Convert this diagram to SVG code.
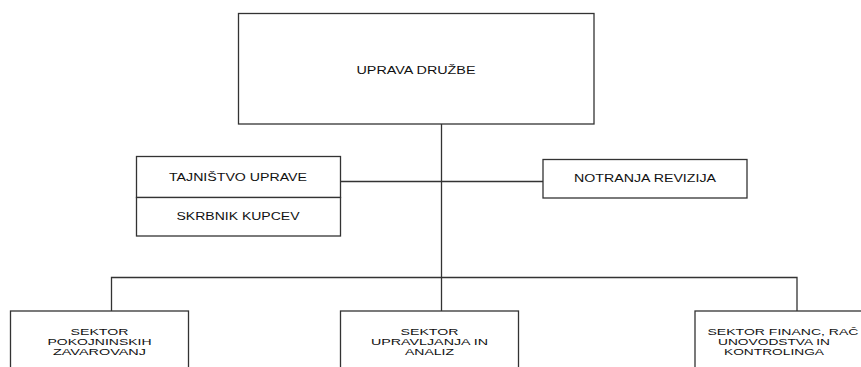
<svg xmlns="http://www.w3.org/2000/svg" width="861" height="367" viewBox="0 0 861 367">
<style>
.box{fill:#fff;stroke:#333;stroke-width:1.3}
.ln{fill:none;stroke:#333;stroke-width:1.3}
text{font-family:"Liberation Sans",Arial,sans-serif;font-size:10px;fill:#111;text-anchor:middle}
.s{font-size:9px}
</style>
<rect width="861" height="367" fill="#fff"/>
<g id="connectors">
<line class="ln" x1="441.5" y1="124" x2="441.5" y2="311"/>
<line class="ln" x1="341" y1="181.5" x2="543" y2="181.5"/>
<polyline class="ln" points="111.5,311 111.5,277.5 797,277.5 797,311"/>
</g>
<g id="uprava">
<rect class="box" x="238.5" y="13.5" width="355.5" height="110.5"/>
<text x="416" y="74" textLength="119" lengthAdjust="spacingAndGlyphs">UPRAVA DRUŽBE</text>
</g>
<g id="tajnistvo">
<rect class="box" x="136.5" y="156.5" width="204" height="41"/>
<text x="238" y="181" textLength="138" lengthAdjust="spacingAndGlyphs">TAJNIŠTVO UPRAVE</text>
</g>
<g id="skrbnik">
<rect class="box" x="136.5" y="197.5" width="204" height="38.5"/>
<text x="238" y="220" textLength="123" lengthAdjust="spacingAndGlyphs">SKRBNIK KUPCEV</text>
</g>
<g id="revizija">
<rect class="box" x="543" y="159.5" width="204" height="38.5"/>
<text x="645" y="182" textLength="142" lengthAdjust="spacingAndGlyphs">NOTRANJA REVIZIJA</text>
</g>
<g id="pokojninski">
<rect class="box" x="10.5" y="311" width="178" height="70"/>
<text class="s" x="99.5" y="334.5" textLength="58" lengthAdjust="spacingAndGlyphs">SEKTOR</text>
<text class="s" x="99.5" y="344.5" textLength="104" lengthAdjust="spacingAndGlyphs">POKOJNINSKIH</text>
<text class="s" x="99.5" y="354.5" textLength="93" lengthAdjust="spacingAndGlyphs">ZAVAROVANJ</text>
</g>
<g id="upravljanje">
<rect class="box" x="340.5" y="311" width="178" height="70"/>
<text class="s" x="429.5" y="334.5" textLength="58" lengthAdjust="spacingAndGlyphs">SEKTOR</text>
<text class="s" x="429.5" y="344.5" textLength="117" lengthAdjust="spacingAndGlyphs">UPRAVLJANJA IN</text>
<text class="s" x="429.5" y="354.5" textLength="49" lengthAdjust="spacingAndGlyphs">ANALIZ</text>
</g>
<g id="financ">
<rect class="box" x="695" y="311" width="178" height="70"/>
<text class="s" x="783" y="334.5" textLength="151" lengthAdjust="spacingAndGlyphs">SEKTOR FINANC, RAČ</text>
<text class="s" x="774" y="344.5" textLength="112" lengthAdjust="spacingAndGlyphs">UNOVODSTVA IN</text>
<text class="s" x="774" y="354.5" textLength="100" lengthAdjust="spacingAndGlyphs">KONTROLINGA</text>
</g>
</svg>
